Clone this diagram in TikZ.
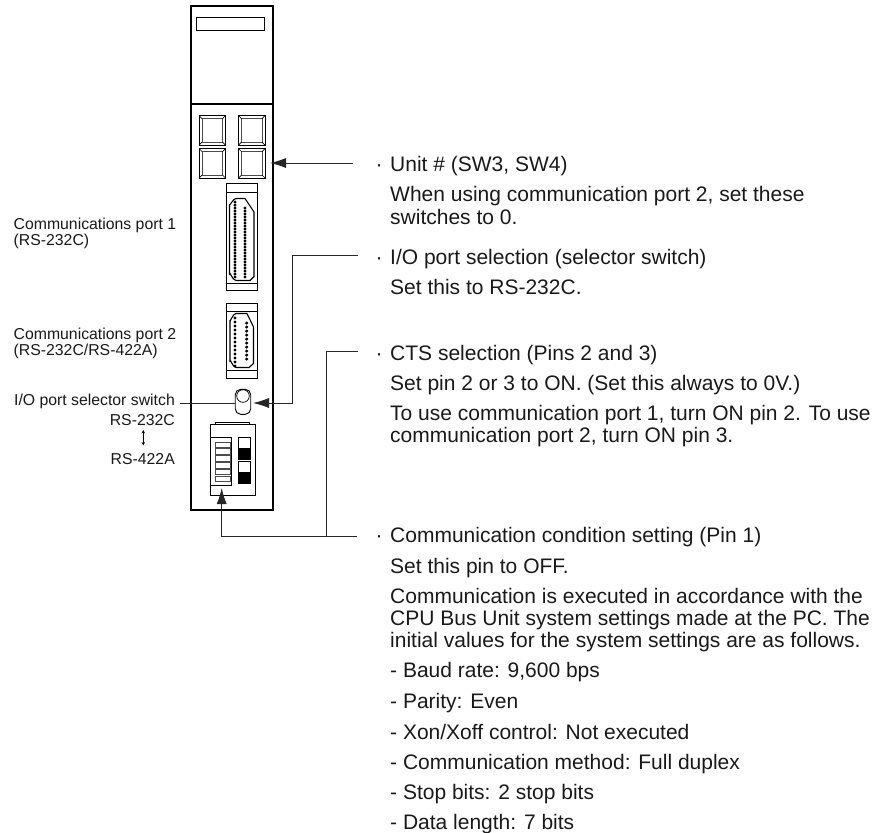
\documentclass[tikz,border=0pt]{standalone}
\usepackage{fontspec}
\setmainfont{Liberation Sans}
\usetikzlibrary{arrows.meta}
\tikzset{
 tr/.style={anchor=base west,inner sep=0pt,font=\fontsize{21}{24}\selectfont,text=black!90},
 tle/.style={anchor=base east,inner sep=0pt,font=\fontsize{15.8}{18}\selectfont,text=black!90},
 tlw/.style={anchor=base west,inner sep=0pt,font=\fontsize{15.8}{18}\selectfont,text=black!90},
 heavy/.style={draw=black,line width=1.7pt},
 med/.style={draw=black,line width=1pt},
 thin1/.style={draw=black,line width=0.7pt},
 lead/.style={draw=black!85,line width=0.8pt},
 ahead/.style={-{Latex[length=16pt,width=10pt]}},
}
\newcommand{\keybox}[2]{%
 \draw[med] (#1,#2) rectangle ++(26.5,29.5);
 \draw[thin1,draw=black!70] (#1+3,#2+3) rectangle ++(20.5,23.5);
 \draw[thin1] (#1,#2)--++(3,3) (#1+26.5,#2)--++(-3,3) (#1,#2+29.5)--++(3,-3) (#1+26.5,#2+29.5)--++(-3,-3);
}
\begin{document}
\begin{tikzpicture}[x=1pt,y=-1pt]
\useasboundingbox (0,0) rectangle (887,833);
% body
\draw[heavy] (190.8,6.3) rectangle (273.2,510);
\draw[heavy] (190.8,104) -- (273.2,104);
\draw[med] (196.8,17.8) rectangle (264,30);
\keybox{199}{115.7}
\keybox{238.5}{115.7}
\keybox{199}{148.5}
\keybox{238.5}{148.5}
% connector 1
\draw[med] (226,183.5) rectangle (257,290);
\draw[thin1] (226,192) -- (257,192) (226,283) -- (257,283);
\draw[line width=1.1pt] (229.5,204) -- (229.5,274) to[out=90,in=180] (236,280.5) -- (250,280.5) -- (254,276.5) -- (254,212) -- (245,198.5) -- (236,198.5) to[out=180,in=-90] (229.5,204);
\foreach \y in {202,205,...,278} \fill (235,\y) circle (1.7pt);
\foreach \y in {208,211,...,277} \fill (245,\y) circle (1.7pt);
% connector 2
\draw[med] (226,303.7) rectangle (257,378);
\draw[thin1] (226,311) -- (257,311) (226,370.5) -- (257,370.5);
\draw[line width=1.1pt] (230,320) -- (230,361) to[out=90,in=180] (236,367.5) -- (249,367.5) -- (253.5,363.5) -- (253.5,327) -- (247,313.5) -- (236,313.5) to[out=180,in=-90] (230,320);
\foreach \y in {318,322,...,366} \fill (235,\y) circle (1.7pt);
\foreach \y in {323,327,...,362} \fill (246.7,\y) circle (1.7pt);
% selector switch
\node[draw=black,line width=0.9pt,rounded corners=5.5pt,minimum width=15.5pt,minimum height=25pt,inner sep=0pt] (sel) at (243,401.8) {};
\draw[thin1] (243,396) circle (6.3pt);
% DIP block
\draw[med] (210.3,424.5) rectangle (255,495.5);
\draw[thin1] (215,424.5) -- (215,422) -- (249,422) -- (249,424.5);
\draw[line width=0.9pt] (210.3,437) rectangle (231,485.5);
\foreach \y in {442,448.8,...,480} \draw[thin1,draw=black!70,fill=white] (215.7,\y) rectangle ++(14.3,5.5);
\draw[thin1] (238,437) rectangle (250,459);
\fill (238,448) rectangle (250,459);
\draw[thin1] (238,461.5) rectangle (250,483);
\fill (238,472) rectangle (250,483);
% left labels
\node[tlw] (cp1) at (13.5,229) {Communications port 1};
\node[tlw] (cp1b) at (13.5,245) {(RS-232C)};
\node[tlw] (cp2) at (13.5,339) {Communications port 2};
\node[tlw] (cp2b) at (13.5,355) {(RS-232C/RS-422A)};
\node[tle] (ios) at (175,405.7) {I/O port selector switch};
\node[tle] (rs2) at (175,425) {RS-232C};
\node[tle] (rs4) at (175,464) {RS-422A};
\draw[line width=0.7pt,{Stealth[length=3.5pt,width=3.5pt]}-{Stealth[length=3.5pt,width=3.5pt]}] (143.3,430) -- (143.3,445.5);
\draw[lead] (180,403) -- (sel.west |- 0,403);
% leaders
\coordinate (u1) at (353,163);
\coordinate (io1) at (357.5,255);
\coordinate (io2) at (292.5,255);
\coordinate (cts1) at (357.5,351);
\coordinate (cts2) at (326.5,351);
\coordinate (cm1) at (357,536);
\coordinate (cm2) at (221.7,536);
\coordinate (cmj) at (326.5,536);
\draw[lead,ahead] (u1) -- (270,163);
\draw[lead,ahead] (io1) -- (io2) -- (292.5,403) -- (253,403);
\draw[lead] (cts1) -- (cts2) -- (cmj);
\draw[lead,ahead] (cm1) -- (cm2) -- (221.7,488);
% right text
\node[tr] (a0) at (375.5,171) {·};
\node[tr] (a1) at (390,171) {Unit \# (SW3, SW4)};
\node[tr] (a2) at (390,201.7) {When using communication port 2, set these};
\node[tr] (a3) at (390,224) {switches to 0.};
\node[tr] (b0) at (375.5,264.3) {·};
\node[tr] (b1) at (390,264.3) {I/O port selection (selector switch)};
\node[tr] (b2) at (390,294) {Set this to RS-232C.};
\node[tr] (c0) at (375.5,360) {·};
\node[tr] (c1) at (390,360) {CTS selection (Pins 2 and 3)};
\node[tr] (c2) at (390,390) {Set pin 2 or 3 to ON. (Set this always to 0V.)};
\node[tr] (c3) at (390,420) {To use communication port 1, turn ON pin 2. To use};
\node[tr] (c4) at (390,442) {communication port 2, turn ON pin 3.};
\node[tr] (d0) at (375.5,542.5) {·};
\node[tr] (d1) at (390,542.5) {Communication condition setting (Pin 1)};
\node[tr] (d2) at (390,573.3) {Set this pin to OFF.};
\node[tr] (d3) at (390,603) {Communication is executed in accordance with the};
\node[tr] (d4) at (390,625) {CPU Bus Unit system settings made at the PC. The};
\node[tr] (d5) at (390,647.7) {initial values for the system settings are as follows.};
\node[tr] (e1) at (390,677.7) {- Baud rate: 9,600 bps};
\node[tr] (e2) at (390,708) {- Parity: Even};
\node[tr] (e3) at (390,739) {- Xon/Xoff control: Not executed};
\node[tr] (e4) at (390,769) {- Communication method: Full duplex};
\node[tr] (e5) at (390,799) {- Stop bits: 2 stop bits};
\node[tr] (e6) at (390,829) {- Data length: 7 bits};
\end{tikzpicture}
\end{document}
